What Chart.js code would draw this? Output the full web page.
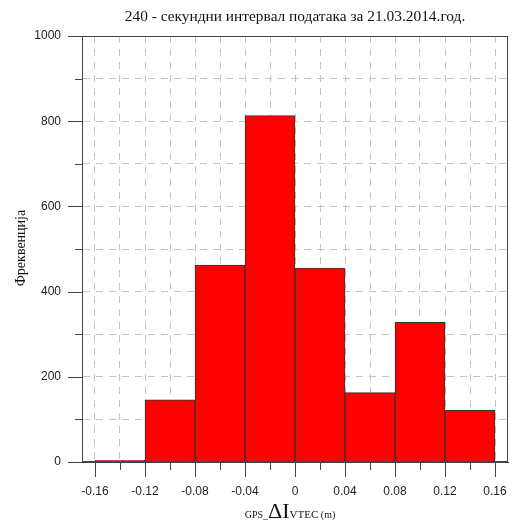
<!DOCTYPE html>
<html>
<head>
<meta charset="utf-8">
<script src="https://cdn.jsdelivr.net/npm/chart.js@4.4.1/dist/chart.umd.min.js"></script>
<style>
  html, body { margin: 0; padding: 0; background: #fff; }
  canvas { display: block; }
</style>
</head>
<body>
<canvas id="hist" width="513" height="527"></canvas>
<script>
// bin centres (m) and frequencies
const binCenters = [-0.14, -0.10, -0.06, -0.02, 0.02, 0.06, 0.10, 0.14];
const frequencies = [4, 146, 462, 813, 455, 163, 328, 121];
const xTickValues = [-0.16, -0.14, -0.12, -0.10, -0.08, -0.06, -0.04, -0.02, 0, 0.02, 0.04, 0.06, 0.08, 0.10, 0.12, 0.14, 0.16];
const yTickValues = [0, 100, 200, 300, 400, 500, 600, 700, 800, 900, 1000];

const titleText = '240 - секундни интервал података за 21.03.2014.год.';
const yTitle = 'Фреквенција';

const serif = '"Liberation Serif", "Times New Roman", serif';
const sans = '"Liberation Sans", Arial, sans-serif';
const gridColor = '#c4c4c4';
const axisColor = '#444';

const isMajorX = v => Math.round(v * 100) % 4 === 0;
const isMajorY = v => v % 200 === 0;

// frame, tick marks, titles
const decor = {
  id: 'decor',
  afterDraw(chart) {
    const { ctx, chartArea: a, scales: { x, y } } = chart;
    ctx.save();
    ctx.strokeStyle = axisColor;
    ctx.lineWidth = 1;
    ctx.strokeRect(Math.round(a.left) + 0.5, Math.round(a.top) + 0.5,
      Math.round(a.right - a.left) - 1, Math.round(a.bottom - a.top) - 1);

    ctx.beginPath();
    yTickValues.forEach(v => {
      const py = Math.round(y.getPixelForValue(v)) + 0.5;
      const len = isMajorY(v) ? 14 : 7;
      ctx.moveTo(a.left - len, py);
      ctx.lineTo(a.left, py);
    });
    xTickValues.forEach(v => {
      const px = Math.round(x.getPixelForValue(v)) + 0.5;
      const len = isMajorX(v) ? 15 : 8;
      ctx.moveTo(px, a.bottom);
      ctx.lineTo(px, a.bottom + len);
    });
    ctx.stroke();

    ctx.fillStyle = '#111';
    ctx.textAlign = 'center';
    ctx.textBaseline = 'alphabetic';
    ctx.font = '15.4px ' + serif;
    ctx.fillText(titleText, 295, 21);

    // y title
    ctx.save();
    ctx.translate(25, 248);
    ctx.rotate(-Math.PI / 2);
    ctx.font = '14px ' + serif;
    ctx.fillText(yTitle, 0, 0);
    ctx.restore();

    // x title: GPS_ ΔI VTEC (m)
    const parts = [
      ['GPS_', '10px ' + serif],
      ['ΔI', '22px ' + serif],
      ['VTEC', '11px ' + serif],
      [' (m)', '10px ' + serif]
    ];
    let total = 0;
    parts.forEach(p => { ctx.font = p[1]; total += ctx.measureText(p[0]).width; });
    let cx = 290 - total / 2;
    ctx.textAlign = 'left';
    parts.forEach(p => {
      ctx.font = p[1];
      ctx.fillText(p[0], cx, 518);
      cx += ctx.measureText(p[0]).width;
    });
    ctx.restore();
  }
};

new Chart(document.getElementById('hist'), {
  type: 'bar',
  data: {
    datasets: [{
      data: binCenters.map((c, i) => ({ x: c, y: frequencies[i] })),
      backgroundColor: '#ff0000',
      borderColor: '#333',
      borderWidth: 1,
      borderSkipped: false,
      barThickness: 'flex',
      barPercentage: 1,
      categoryPercentage: 1
    }]
  },
  options: {
    responsive: false,
    animation: false,
    layout: { padding: { top: 36, right: 5, left: 0, bottom: 0 } },
    plugins: { legend: { display: false }, tooltip: { enabled: false } },
    scales: {
      x: {
        type: 'linear',
        offset: false,
        min: -0.1704,
        max: 0.1704,
        afterBuildTicks: s => { s.ticks = xTickValues.map(v => ({ value: v })); },
        afterFit: s => { s.height = 65; s.paddingLeft = 0; s.paddingRight = 0; },
        grid: {
          offset: false,
          drawTicks: false,
          color: gridColor,
          lineWidth: 1
        },
        border: { display: true, color: axisColor, dash: [7, 6] },
        ticks: {
          autoSkip: false,
          maxRotation: 0,
          padding: 22,
          color: '#222',
          font: { family: sans, size: 12 },
          callback: v => isMajorX(v) ? String(Math.round(v * 100) / 100) : ''
        }
      },
      y: {
        min: 0,
        max: 1000,
        afterBuildTicks: s => { s.ticks = yTickValues.map(v => ({ value: v })); },
        afterFit: s => { s.width = 82; },
        grid: {
          drawTicks: false,
          color: c => (c.tick && (c.tick.value === 0 || c.tick.value === 1000)) ? 'rgba(0,0,0,0)' : gridColor,
          lineWidth: 1
        },
        border: { display: true, color: axisColor, dash: [7, 6] },
        ticks: {
          autoSkip: false,
          padding: 21,
          color: '#222',
          font: { family: sans, size: 12 },
          callback: v => isMajorY(v) ? String(v) : ''
        }
      }
    }
  },
  plugins: [decor]
});
</script>
</body>
</html>
